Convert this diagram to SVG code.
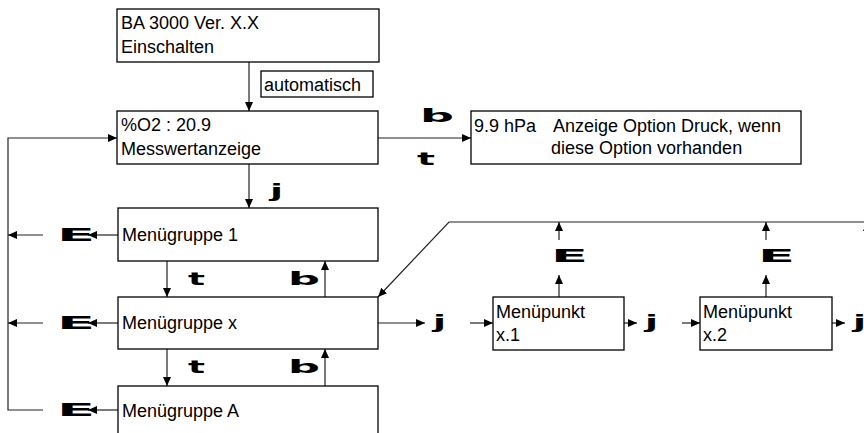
<svg xmlns="http://www.w3.org/2000/svg" width="864" height="433" viewBox="0 0 864 433">
<style>
.box{fill:#fff;stroke:#000;stroke-width:1.3}
.t{font-family:"Liberation Sans",Arial,sans-serif;font-size:18px;fill:#000}
.k{font-family:"DejaVu Sans",sans-serif;font-weight:bold;fill:#000}
.c{fill:none;stroke:#222;stroke-width:1.2}
.a{marker-end:url(#ah)}
</style>
<defs>
<marker id="ah" markerUnits="userSpaceOnUse" markerWidth="10" markerHeight="8" refX="9" refY="4" orient="auto">
<path d="M0,0 L9,4 L0,8 z" fill="#000"/>
</marker>
</defs>
<rect width="864" height="433" fill="#fff"/>
<g id="connectors">
<line class="c a" x1="249" y1="62" x2="249" y2="111"/>
<line class="c a" x1="378" y1="138" x2="471" y2="138"/>
<line class="c a" x1="249" y1="164" x2="249" y2="208"/>
<line class="c a" x1="167" y1="261" x2="167" y2="297"/>
<line class="c a" x1="325" y1="297" x2="325" y2="261"/>
<line class="c a" x1="167" y1="349" x2="167" y2="386"/>
<line class="c a" x1="325" y1="386" x2="325" y2="349"/>
<line class="c a" x1="118" y1="235" x2="88" y2="235"/>
<line class="c a" x1="43" y1="235" x2="8" y2="235"/>
<line class="c a" x1="118" y1="323" x2="88" y2="323"/>
<line class="c a" x1="43" y1="323" x2="8" y2="323"/>
<line class="c a" x1="118" y1="410" x2="88" y2="410"/>
<polyline class="c a" points="43,410 8,410 8,138 117,138"/>
<line class="c a" x1="378" y1="323" x2="425" y2="323"/>
<line class="c a" x1="470" y1="323" x2="493" y2="323"/>
<line class="c a" x1="624" y1="323" x2="637" y2="323"/>
<line class="c a" x1="682" y1="323" x2="700" y2="323"/>
<line class="c a" x1="832" y1="323" x2="845" y2="323"/>
<line class="c a" x1="559" y1="297" x2="559" y2="275"/>
<line class="c a" x1="559" y1="240" x2="559" y2="222"/>
<line class="c a" x1="766" y1="297" x2="766" y2="275"/>
<line class="c a" x1="766" y1="240" x2="766" y2="222"/>
<line class="c a" x1="867" y1="240" x2="867" y2="222"/>
<polyline class="c a" points="864,222 449,222 378,297"/>
</g>
<g id="key-labels">
<text class="k" x="420" y="122" font-size="17" textLength="34" lengthAdjust="spacingAndGlyphs">b</text>
<text class="k" x="417" y="165" font-size="17" textLength="18" lengthAdjust="spacingAndGlyphs">t</text>
<text class="k" x="270" y="197" font-size="18" textLength="13" lengthAdjust="spacingAndGlyphs">j</text>
<text class="k" x="188" y="285" font-size="17" textLength="17" lengthAdjust="spacingAndGlyphs">t</text>
<text class="k" x="288" y="285" font-size="17" textLength="32" lengthAdjust="spacingAndGlyphs">b</text>
<text class="k" x="188" y="373" font-size="17" textLength="17" lengthAdjust="spacingAndGlyphs">t</text>
<text class="k" x="288" y="373" font-size="17" textLength="32" lengthAdjust="spacingAndGlyphs">b</text>
<text class="k" x="57" y="241" font-size="18" textLength="38" lengthAdjust="spacingAndGlyphs">E</text>
<text class="k" x="57" y="329" font-size="18" textLength="38" lengthAdjust="spacingAndGlyphs">E</text>
<text class="k" x="57" y="416" font-size="18" textLength="38" lengthAdjust="spacingAndGlyphs">E</text>
<text class="k" x="551" y="262" font-size="17" textLength="37" lengthAdjust="spacingAndGlyphs">E</text>
<text class="k" x="758" y="262" font-size="17" textLength="37" lengthAdjust="spacingAndGlyphs">E</text>
<text class="k" x="433" y="328" font-size="17" textLength="13" lengthAdjust="spacingAndGlyphs">j</text>
<text class="k" x="645" y="328" font-size="17" textLength="13" lengthAdjust="spacingAndGlyphs">j</text>
<text class="k" x="853" y="328" font-size="17" textLength="13" lengthAdjust="spacingAndGlyphs">j</text>
</g>
<g id="n-start">
<rect class="box" x="117" y="9" width="262" height="53"/>
<text class="t" x="121" y="29">BA 3000 Ver. X.X</text>
<text class="t" x="121" y="53">Einschalten</text>
</g>
<g id="n-auto">
<rect class="box" x="261" y="71" width="112" height="26"/>
<text class="t" x="264" y="91">automatisch</text>
</g>
<g id="n-messwert">
<rect class="box" x="117" y="111" width="261" height="53"/>
<text class="t" x="121" y="131">%O2 : 20.9</text>
<text class="t" x="121" y="155">Messwertanzeige</text>
</g>
<g id="n-druck">
<rect class="box" x="471" y="111" width="330" height="53"/>
<text class="t" y="132"><tspan x="474">9.9 hPa</tspan><tspan x="553">Anzeige Option Druck, wenn</tspan></text>
<text class="t" x="551" y="154">diese Option vorhanden</text>
</g>
<g id="n-mg1">
<rect class="box" x="118" y="208" width="260" height="53"/>
<text class="t" x="122" y="241">Menügruppe 1</text>
</g>
<g id="n-mgx">
<rect class="box" x="118" y="297" width="260" height="52"/>
<text class="t" x="122" y="329">Menügruppe x</text>
</g>
<g id="n-mga">
<rect class="box" x="118" y="386" width="260" height="60"/>
<text class="t" x="122" y="417">Menügruppe A</text>
</g>
<g id="n-x1">
<rect class="box" x="493" y="297" width="131" height="53"/>
<text class="t" x="496" y="318">Menüpunkt</text>
<text class="t" x="496" y="341">x.1</text>
</g>
<g id="n-x2">
<rect class="box" x="700" y="297" width="132" height="53"/>
<text class="t" x="703" y="318">Menüpunkt</text>
<text class="t" x="703" y="341">x.2</text>
</g>
</svg>
